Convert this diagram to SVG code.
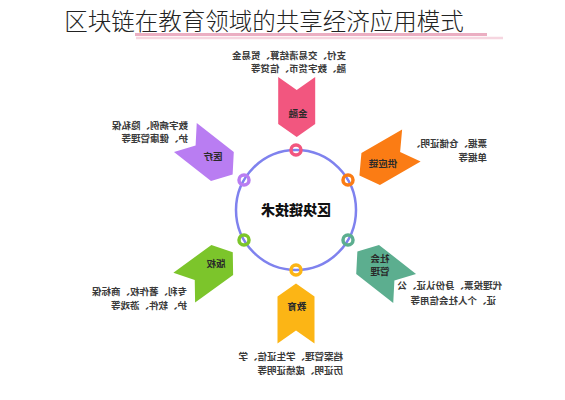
<svg xmlns="http://www.w3.org/2000/svg" width="565" height="400" viewBox="0 0 565 400">
<style>
.title{font-family:"Noto Sans CJK SC","Liberation Sans",sans-serif;font-size:23.5px;font-weight:300;fill:#222}
.desc{font-family:"Noto Sans CJK SC","Liberation Sans",sans-serif;font-size:9.5px;font-weight:700;fill:#3a3a3a}
.lbl{font-family:"Noto Sans CJK SC","Liberation Sans",sans-serif;font-size:9.5px;font-weight:700;fill:#2a2a2a;text-anchor:middle}
.hub{font-family:"Noto Sans CJK SC","Liberation Sans",sans-serif;font-size:14px;font-weight:900;fill:#111;text-anchor:middle}
.ring{fill:none;stroke-width:3.5}
</style>
<defs>
<path id="chev" d="M-18.5,-30 L0,-17 L18.5,-30 L18.5,17 L0,30 L-18.5,17 Z"/>
</defs>
<rect width="565" height="400" fill="#ffffff"/>
<g id="title">
<line x1="136" y1="38" x2="503" y2="38" stroke="#f6d6e0" stroke-width="2.5"/>
<line x1="135" y1="34.5" x2="487" y2="34.5" stroke="#ebaec2" stroke-width="3"/>
<text class="title" x="264" y="30" text-anchor="middle">区块链在教育领域的共享经济应用模式</text>
</g>
<g id="connectors">
<circle cx="296" cy="210" r="60" fill="none" stroke="#7f82ee" stroke-width="2.5"/>
</g>
<g id="hub">
<text class="hub" transform="translate(296,215) scale(-1,1)">区块链技术</text>
</g>
<g id="node-finance">
<use href="#chev" transform="translate(296.7,107)" fill="#f2567f"/>
<text class="lbl" transform="translate(298,116.5) scale(-1,1)">金融</text>
<circle class="ring" cx="296" cy="150" r="5" stroke="#f2567f"/>
<text class="desc" transform="translate(346,58.5) scale(-1,1)">支付、交易清结算、贸易金</text>
<text class="desc" transform="translate(346,72) scale(-1,1)">融、数字货币、信贷等</text>
</g>
<g id="node-supply">
<use href="#chev" transform="translate(385.4,160.4) rotate(60)" fill="#fb7c14"/>
<text class="lbl" transform="translate(383,166.8) scale(-1,1)">供应链</text>
<circle class="ring" cx="348" cy="180" r="5" stroke="#fb7c14"/>
<text class="desc" transform="translate(487,146.5) scale(-1,1)">票据、仓储证明、</text>
<text class="desc" transform="translate(487,160.5) scale(-1,1)">单据等</text>
</g>
<g id="node-social">
<use href="#chev" transform="translate(381,270) rotate(128)" fill="#5cae8f"/>
<text class="lbl" transform="translate(380,261.8) scale(-1,1)">社会</text>
<text class="lbl" transform="translate(380,275.2) scale(-1,1)">管理</text>
<circle class="ring" cx="348" cy="240" r="5" stroke="#5cae8f"/>
<text class="desc" transform="translate(502,289) scale(-1,1)">代理投票、身份认证、公</text>
<text class="desc" transform="translate(496,303.5) scale(-1,1)">证、个人社会信用等</text>
</g>
<g id="node-education">
<use href="#chev" transform="translate(296,313.5) rotate(180)" fill="#fcb515"/>
<text class="lbl" transform="translate(296.7,310.2) scale(-1,1)">教育</text>
<circle class="ring" cx="296" cy="270" r="5" stroke="#fcb515"/>
<text class="desc" transform="translate(343,360) scale(-1,1)">档案管理、学生证信、学</text>
<text class="desc" transform="translate(343,373.5) scale(-1,1)">历证明、成绩证明等</text>
</g>
<g id="node-copyright">
<use href="#chev" transform="translate(208.5,270) rotate(-126)" fill="#7cc52b"/>
<text class="lbl" transform="translate(216,266.8) scale(-1,1)">版权</text>
<circle class="ring" cx="244" cy="240" r="5" stroke="#7cc52b"/>
<text class="desc" transform="translate(187,295) scale(-1,1)">专利、著作权、商标保</text>
<text class="desc" transform="translate(187,308.5) scale(-1,1)">护、软件、游戏等</text>
</g>
<g id="node-medical">
<use href="#chev" transform="translate(209,156) rotate(-52)" fill="#b97df2"/>
<text class="lbl" transform="translate(213,160.2) scale(-1,1)">医疗</text>
<circle class="ring" cx="244" cy="180" r="5" stroke="#b97df2"/>
<text class="desc" transform="translate(188,128.5) scale(-1,1)">数字病例、隐私保</text>
<text class="desc" transform="translate(188,142) scale(-1,1)">护、健康管理等</text>
</g>
</svg>
